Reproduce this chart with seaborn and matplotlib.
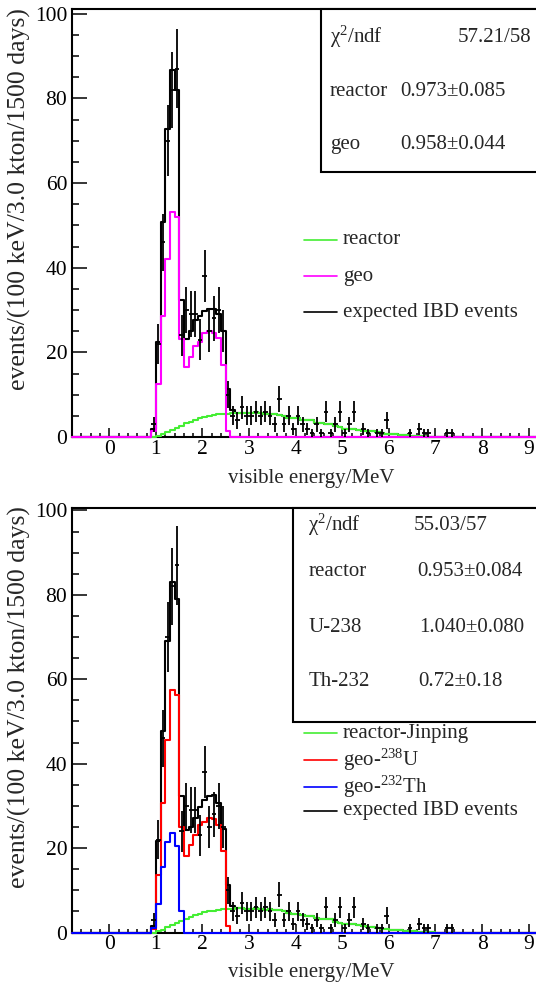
import numpy as np
import pandas as pd
import matplotlib
matplotlib.use("Agg")
import matplotlib.pyplot as plt
import seaborn as sns
from matplotlib.lines import Line2D
from matplotlib.patches import Rectangle
from matplotlib.ticker import MultipleLocator

# ---------------- data ----------------
x_min, x_max, bin_w = -0.8, 9.2, 0.1

# reactor spectrum, bins starting at 1.0 MeV
reactor_start = 1.0
reactor = [0.3, 0.7, 1.2, 1.7, 2.2, 2.7, 3.2, 3.6, 4.1, 4.5,
           4.8, 5.0, 5.2, 5.4, 5.5, 5.5, 5.6, 5.7, 5.7, 5.6,
           5.6, 5.8, 5.6, 5.4, 5.5, 5.4, 5.3, 5.0, 4.6, 4.5,
           4.5, 4.1, 3.9, 3.9, 3.4, 3.2, 3.1, 3.1, 2.5, 2.3,
           2.0, 1.9, 1.9, 1.7, 1.5, 1.4, 1.3, 1.1, 0.9, 0.8,
           0.7, 0.6, 0.5, 0.4, 0.35, 0.3, 0.2, 0.15, 0.1, 0.05]

# expected IBD events (top panel), bins starting at 0.9 MeV
expected_start = 0.9
expected_top = [1.8, 22.5, 50.8, 72.7, 86.6, 82.0, 32.3, 23.1, 25.1, 27.7,
                28.5, 29.7, 30.2, 30.3, 29.0, 25.1, 11.3, 6.3,
                5.7, 5.7, 5.6, 5.6, 5.8, 5.6, 5.4, 5.5, 5.4, 5.3, 5.0, 4.6, 4.5,
                4.5, 4.1, 3.9, 3.9, 3.4, 3.2, 3.1, 3.1, 2.5, 2.3,
                2.0, 1.9, 1.9, 1.7, 1.5, 1.4, 1.3, 1.1, 0.9, 0.8,
                0.7, 0.6, 0.5, 0.4, 0.35, 0.3, 0.2, 0.15, 0.1, 0.05]
geo_start = 0.9
geo_top = [1.3, 12.6, 28.6, 42.1, 53.2, 51.9, 23.1, 16.6, 18.9, 21.6,
           22.4, 24.5, 25.1, 24.6, 23.5, 17.0, 1.3]

# expected IBD events (bottom panel)
expected_bot = [1.5, 21.6, 47.8, 69.0, 83.0, 79.1, 32.4, 24.3, 25.1, 27.1,
                29.8, 31.4, 32.3, 32.6, 30.6, 24.5, 11.3, 6.3,
                5.7, 5.7, 5.6, 5.6, 5.8, 5.6, 5.4, 5.5, 5.4, 5.3, 5.0, 4.6, 4.5,
                4.5, 4.1, 3.9, 3.9, 3.4, 3.2, 3.1, 3.1, 2.5, 2.3,
                2.0, 1.9, 1.9, 1.7, 1.5, 1.4, 1.3, 1.1, 0.9, 0.8,
                0.7, 0.6, 0.5, 0.4, 0.35, 0.3, 0.2, 0.15, 0.1, 0.05]
u238_start = 0.9
u238 = [0.8, 13.6, 30.8, 45.5, 57.5, 56.2, 25.1, 18.1, 20.7, 23.1,
        25.5, 26.3, 27.1, 27.0, 25.5, 19.4, 1.5]
th232_start = 0.9
th232 = [1.0, 6.8, 15.6, 21.4, 23.5, 20.6, 5.0]

# pseudo-data counts, bins starting at 0.9 MeV
data_start = 0.9
data_counts = [3, 22, 46, 70, 82, 87, 24, 30, 29, 29,
               23, 38, 25, 28, 30, 25, 10, 5, 4, 7,
               5, 5, 6, 5, 6, 5, 3, 9, 3, 5,
               2, 5, 3, 2, 1, 3, 1, 6, 1, 3,
               6, 1, 3, 6, 0, 2, 1, 0, 1, 1,
               4, 0, 0, 0, 0, 1, 0, 2, 1, 1,
               0, 0, 0, 1, 1]

stats_top = [("χ$^{2}$/ndf", "57.21/58"), ("reactor", "0.973±0.085"), ("geo", "0.958±0.044")]
stats_bot = [("χ$^{2}$/ndf", "55.03/57"), ("reactor", "0.953±0.084"),
             ("U-238", "1.040±0.080"), ("Th-232", "0.72±0.18")]

x_ticks = list(range(0, 10))
y_ticks = [0, 20, 40, 60, 80, 100]
xlabel = "visible energy/MeV"
ylabel = "events/(100 keV/3.0 kton/1500 days)"

# ---------------- helpers ----------------
n_bins = int(round((x_max - x_min) / bin_w))
edges = [round(x_min + bin_w * i, 6) for i in range(n_bins + 1)]
centers = np.round(np.array(edges[:-1]) + bin_w / 2, 6)


def full(start, values):
    arr = np.zeros(n_bins)
    i0 = int(round((start - x_min) / bin_w))
    arr[i0:i0 + len(values)] = values
    return arr


def hist(ax, start, values, color, z):
    df = pd.DataFrame({"E": centers, "w": full(start, values)})
    sns.histplot(data=df, x="E", weights="w", bins=edges, element="step",
                 fill=False, color=color, linewidth=1.5, ax=ax, zorder=z, clip_on=False)


W, H = 536, 988


def fx(px):
    return px / W


def fy(py):
    return 1 - py / H


sns.set_theme(style="ticks")
plt.rcParams["font.family"] = ["Liberation Serif", "DejaVu Serif"]
plt.rcParams["mathtext.fontset"] = "custom"
plt.rcParams["mathtext.rm"] = "Liberation Serif"
plt.rcParams["mathtext.default"] = "regular"
FS = 15

fig = plt.figure(figsize=(W / 100, H / 100), dpi=100)

GREEN = "#44ee33"
panels = [
    dict(top=9.5, bot=437.0, ymax=101.0, expected=expected_top,
         comps=[(geo_start, geo_top, "#ff00ff")],
         legend=[("reactor", GREEN), ("geo", "#ff00ff"), ("expected IBD events", "black")],
         leg_y=[240, 276, 312], box=(320.7, 171.7), stats=stats_top,
         stat_y=[37, 91.5, 144], stat_lx=330, stat_vx=[None, 400.7, 400.7], stat_rx=531.7,
         xlab_y=478),
    dict(top=507.7, bot=932.5, ymax=100.66, expected=expected_bot,
         comps=[(u238_start, u238, "#ff0000"), (th232_start, th232, "#0000ff")],
         legend=[("reactor-Jinping", GREEN), ("geo-$^{238}$U", "#ff0000"),
                 ("geo-$^{232}$Th", "#0000ff"), ("expected IBD events", "black")],
         leg_y=[733.3, 760, 786.7, 810.5], box=(293.3, 721.7), stats=stats_bot,
         stat_y=[525, 571.5, 627.5, 681.5], stat_lx=308.3,
         stat_vx=[414, 417.3, 419.3, 418.3], stat_rx=None, xlab_y=972),
]

ax_left, ax_right = 72.0, 538.0
for p in panels:
    ax = fig.add_axes([fx(ax_left), fy(p["bot"]), (ax_right - ax_left) / W, (p["bot"] - p["top"]) / H])
    hist(ax, expected_start, p["expected"], "black", 3.0)
    hist(ax, reactor_start, reactor, GREEN, 3.1)
    for k, (st, vals, col) in enumerate(p["comps"]):
        hist(ax, st, vals, col, 3.2 + 0.1 * k)
    # data with Poisson error bars
    d = full(data_start, data_counts)
    m = d > 0
    ax.errorbar(centers[m], d[m], yerr=np.sqrt(d[m]), xerr=bin_w / 2, fmt="none",
                ecolor="black", elinewidth=1.3, capsize=0, zorder=5)

    ax.set_xlim(x_min, x_max)
    ax.set_ylim(0, p["ymax"])
    ax.xaxis.set_minor_locator(MultipleLocator(0.2))
    ax.yaxis.set_minor_locator(MultipleLocator(5))
    ax.set_xticks(x_ticks)
    ax.set_yticks(y_ticks)
    ax.tick_params(axis="both", which="both", direction="in", labelsize=15.5, width=1.1,
                   colors="black")
    ax.tick_params(axis="x", which="major", length=6.5, pad=2)
    ax.tick_params(axis="x", which="minor", length=3.2)
    ax.tick_params(axis="y", which="major", length=10.8, pad=3.5)
    ax.tick_params(axis="y", which="minor", length=5.2)
    ax.tick_params(top=False, right=False)
    for s in ax.spines.values():
        s.set_linewidth(1.5)
        s.set_color("black")
    ax.set_xlabel(xlabel, fontsize=FS, va="center")
    ax.xaxis.set_label_coords((311 - ax_left) / (ax_right - ax_left),
                              -(p["xlab_y"] - p["bot"]) / (p["bot"] - p["top"]))
    ax.set_ylabel(ylabel, fontsize=18.5, loc="top", va="center")
    ax.yaxis.set_label_coords((19 - ax_left) / (ax_right - ax_left), 1.0 + 1.5 / (p["bot"] - p["top"]))

    # stat box
    bx, bb = p["box"]
    fig.add_artist(Rectangle((fx(bx), fy(bb)), fx(560) - fx(bx), fy(p["top"]) - fy(bb),
                             transform=fig.transFigure, fill=True, facecolor="white",
                             edgecolor="black", linewidth=1.5, zorder=10))
    for i, (name, val) in enumerate(p["stats"]):
        yy = p["stat_y"][i]
        fig.text(fx(p["stat_lx"]), fy(yy), name, fontsize=FS, ha="left", va="center", zorder=11)
        if i == 0 and p["stat_rx"] is not None:
            fig.text(fx(p["stat_rx"]), fy(yy), val, fontsize=FS, ha="right", va="center", zorder=11)
        else:
            fig.text(fx(p["stat_vx"][i]), fy(yy), val, fontsize=FS, ha="left", va="center", zorder=11)

    # legend
    for (lab, col), yy in zip(p["legend"], p["leg_y"]):
        fig.add_artist(Line2D([fx(304), fx(336.7)], [fy(yy), fy(yy)], color=col,
                              linewidth=1.2, transform=fig.transFigure))
        fig.text(fx(343), fy(yy), lab, fontsize=FS, ha="left", va="center")

fig.savefig("out.png", dpi=100)
